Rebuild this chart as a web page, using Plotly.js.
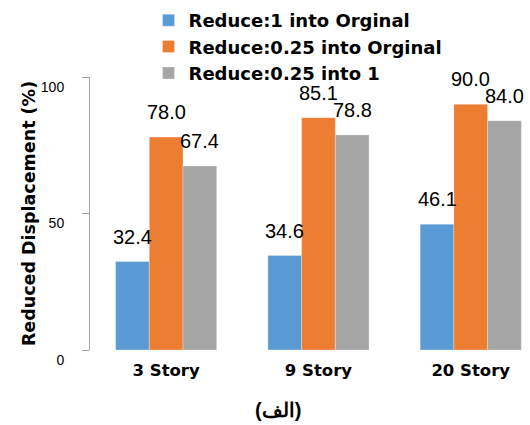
<!DOCTYPE html>
<html><head><meta charset="utf-8">
<script src="https://cdn.plot.ly/plotly-3.0.1.min.js"></script>
<style>html,body{margin:0;padding:0;background:#fff}</style>
</head><body>
<div id="chart" style="width:530px;height:425px"></div>
<script>
const categories = ["3 Story", "9 Story", "20 Story"];
const seriesNames = ["Reduce:1 into Orginal", "Reduce:0.25 into Orginal", "Reduce:0.25 into 1"];
const reduce1IntoOriginal = [32.4, 34.6, 46.1];
const reduce025IntoOriginal = [78.0, 85.1, 90.0];
const reduce025Into1 = [67.4, 78.8, 84.0];
const colors = ["#5B9BD5", "#ED7D31", "#A5A5A5"];
const yTicks = [0, 50, 100];
const caption = "(الف)";

const series = [reduce1IntoOriginal, reduce025IntoOriginal, reduce025Into1];
const bargap = 0.336;
const w = (1 - bargap) / 3;
const font = "Liberation Sans, Arial, sans-serif";
const boldFont = "DejaVu Sans, Open Sans, sans-serif";

const traces = series.map((vals, i) => ({
  type: "bar",
  name: seriesNames[i],
  x: categories.map((c, k) => k),
  y: vals,
  marker: {color: colors[i], line: {color: "rgba(255,255,255,0.6)", width: 0.5}},
  hoverinfo: "none"
}));

const annotations = [];
series.forEach((vals, i) => {
  vals.forEach((v, k) => {
    annotations.push({
      x: k + (i - 1) * w, y: v, xref: "x", yref: "y",
      text: v.toFixed(1), showarrow: false, yanchor: "bottom",
      yshift: 12, font: {family: font, size: 20, color: "#000"}
    });
  });
});
annotations.push({
  x: 0.428, y: -0.22, xref: "paper", yref: "paper", yanchor: "middle", xanchor: "center",
  text: "<b>" + caption + "</b>",
  showarrow: false, font: {family: font, size: 20, color: "#000"}
});

const layout = {
  width: 530, height: 425,
  margin: {l: 89.5, r: 0, t: 77, b: 75},
  paper_bgcolor: "#fff", plot_bgcolor: "#fff",
  barmode: "group", bargap: bargap, bargroupgap: 0,
  showlegend: true,
  legend: {x: 0.133, y: 1.275, xanchor: "left", yanchor: "top", orientation: "v",
           font: {family: boldFont, size: 18, color: "#000", weight: "bold"}, bgcolor: "rgba(0,0,0,0)"},
  xaxis: {
    type: "linear", range: [-0.5, 2.389], tickvals: [0, 1, 2], ticktext: categories.map(c => "<b>" + c + "</b>"),
    showline: false, ticks: "", showgrid: false, zeroline: false, ticklabelstandoff: 8,
    tickfont: {family: boldFont, size: 16.5, color: "#000"}
  },
  yaxis: {
    range: [0, 100], tickvals: yTicks, showline: true, linecolor: "#A6A6A6", linewidth: 1,
    ticks: "outside", ticklen: 7, tickcolor: "#A6A6A6", showgrid: false, zeroline: false,
    tickfont: {family: font, size: 14, color: "#000"}, ticklabelshift: 10, ticklabelstandoff: 15,
    title: {text: "<b>Reduced Displacement (%)</b>", font: {family: boldFont, size: 17.5, color: "#000"}, standoff: 0}
  },
  annotations: annotations
};
Plotly.newPlot("chart", traces, layout, {displayModeBar: false, staticPlot: true});
</script>
</body></html>
